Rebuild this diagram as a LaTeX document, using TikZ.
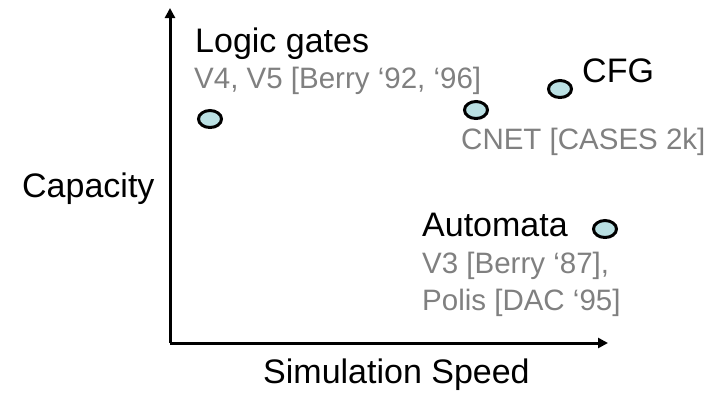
\documentclass[tikz,border=0pt]{standalone}
\usepackage{fontspec}
\setmainfont{Liberation Sans}
\usetikzlibrary{arrows.meta,shapes.geometric}
\definecolor{dotfill}{RGB}{186,224,227}
\definecolor{refgray}{RGB}{128,128,128}
\tikzset{
  blk/.style={anchor=base west, inner sep=0pt, font=\fontsize{34}{38}\selectfont, text=black},
  gry/.style={anchor=base west, inner sep=0pt, font=\fontsize{29.5}{34}\selectfont, text=refgray},
  dot/.style={draw=black, line width=3pt, fill=dotfill, ellipse, minimum width=23pt, minimum height=17pt, inner sep=0pt},
  axis/.style={line width=3pt, -{Triangle[length=10pt,width=10pt]}}
}
\begin{document}
\begin{tikzpicture}[x=1pt,y=-1pt]
\useasboundingbox (0,0) rectangle (718,392);
\coordinate (O) at (170,343);
\coordinate (ytop) at (170,8);
\coordinate (xend) at (608,343);
\draw[axis] (O) -- (ytop);
\draw[axis] (O) -- (xend);
\node[blk] (logic) at (195,52) {Logic gates};
\node[gry] (logicref) at (194,88) {V4, V5 [Berry ‘92, ‘96]};
\node[dot] (dlogic) at (210,119) {};
\node[dot] (dcnet) at (476,110) {};
\node[dot] (dcfg) at (560,89) {};
\node[blk] (cfg) at (582,82) {CFG};
\node[gry] (cnet) at (461,149) {CNET [CASES 2k]};
\node[blk] (cap) at (22,197) {Capacity};
\node[blk] (auto) at (422,236) {Automata};
\node[dot] (dauto) at (605,229) {};
\node[gry] (v3) at (422,273) {V3 [Berry ‘87],};
\node[gry] (polis) at (422,310) {Polis [DAC ‘95]};
\node[blk] (speed) at (263,383) {Simulation Speed};
\end{tikzpicture}
\end{document}
